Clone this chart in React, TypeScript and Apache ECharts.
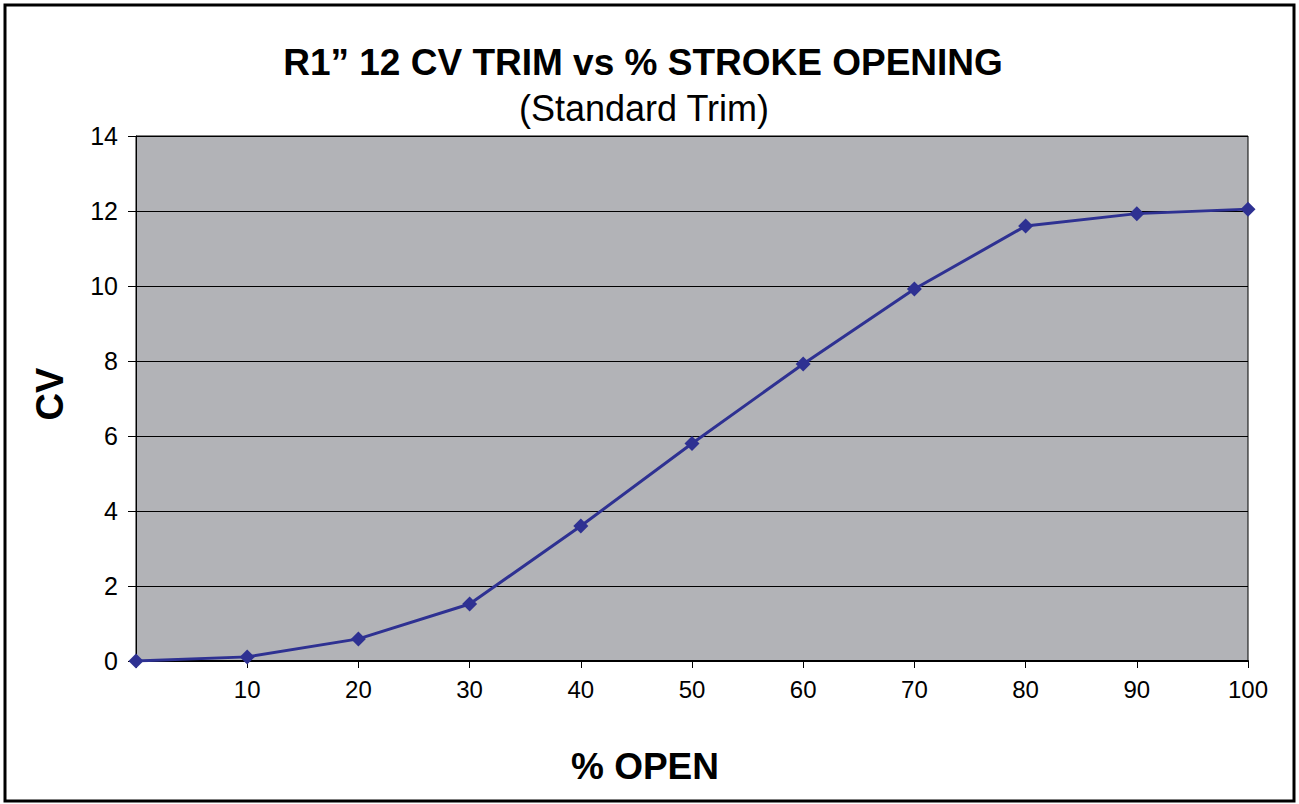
import React, { useEffect, useRef } from "react";
import * as echarts from "echarts";

const percentOpen = [0, 10, 20, 30, 40, 50, 60, 70, 80, 90, 100];
const cvValues = [0, 0.11, 0.59, 1.52, 3.6, 5.8, 7.92, 9.92, 11.6, 11.93, 12.05];
const titleText = "R1\u201D 12 CV TRIM vs % STROKE OPENING";
const subtitleText = "(Standard Trim)";
const xName = "% OPEN";
const yName = "CV";

export default function App() {
  const ref = useRef<HTMLDivElement>(null);
  useEffect(() => {
    document.body.style.margin = "0";
    const chart = echarts.init(ref.current!, null, { renderer: "svg" });
    const font = "'Liberation Sans', Arial, Helvetica, sans-serif";
    chart.setOption({
      animation: false,
      backgroundColor: "#ffffff",
      textStyle: { fontFamily: font },
      grid: { left: 136, top: 136, right: 51, bottom: 143, show: true, backgroundColor: "#b2b3b7", borderColor: "#000", borderWidth: 1 },
      xAxis: {
        type: "value",
        min: 0,
        max: 100,
        interval: 10,
        axisLine: { show: true, lineStyle: { color: "#000", width: 2 } },
        axisTick: { show: true, length: 7, lineStyle: { color: "#000" } },
        axisLabel: {
          color: "#000",
          fontSize: 24,
          margin: 16,
          fontFamily: font,
          formatter: (v: number) => (v === 0 ? "" : String(v)),
        },
        splitLine: { show: false },
      },
      yAxis: {
        type: "value",
        min: 0,
        max: 14,
        interval: 2,
        axisLine: { show: true, lineStyle: { color: "#000", width: 1 } },
        axisTick: { show: true, length: 8, lineStyle: { color: "#000" } },
        axisLabel: { color: "#000", fontSize: 25, margin: 18, fontFamily: font },
        splitLine: { show: true, lineStyle: { color: "#000", width: 1 } },
      },
      series: [
        {
          type: "line",
          data: percentOpen.map((x, i) => [x, cvValues[i]]),
          symbol: "diamond",
          symbolSize: 15,
          itemStyle: { color: "#2e3192" },
          lineStyle: { color: "#2e3192", width: 3 },
        },
      ],
      graphic: [
        {
          type: "rect",
          shape: { x: 5, y: 5, width: 1289, height: 796 },
          style: { fill: "none", stroke: "#000", lineWidth: 3 },
          silent: true,
        },
        {
          type: "text",
          x: 643,
          y: 62,
          style: { text: titleText, fontSize: 37, fontWeight: "bold", fill: "#000", textAlign: "center", textVerticalAlign: "middle", fontFamily: font },
        },
        {
          type: "text",
          x: 644,
          y: 108,
          style: { text: subtitleText, fontSize: 36, fill: "#000", textAlign: "center", textVerticalAlign: "middle", fontFamily: font },
        },
        {
          type: "text",
          x: 645,
          y: 766,
          style: { text: xName, fontSize: 37, fontWeight: "bold", fill: "#000", textAlign: "center", textVerticalAlign: "middle", fontFamily: font },
        },
        {
          type: "text",
          x: 50,
          y: 394,
          rotation: Math.PI / 2,
          style: { text: yName, fontSize: 38, fontWeight: "bold", fill: "#000", textAlign: "center", textVerticalAlign: "middle", fontFamily: font },
        },
      ],
    });
    return () => chart.dispose();
  }, []);
  return <div ref={ref} style={{ width: 1299, height: 804 }} />;
}
